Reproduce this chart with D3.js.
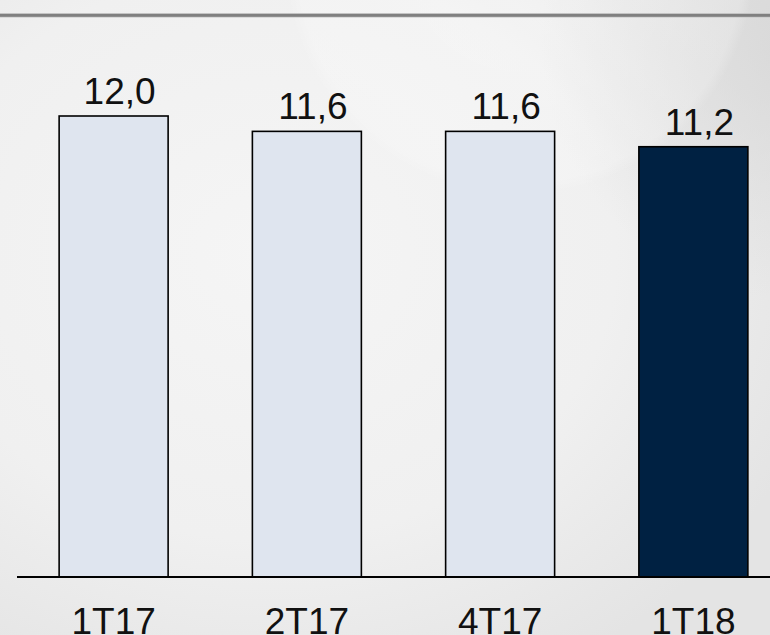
<!DOCTYPE html>
<html>
<head>
<meta charset="utf-8">
<script src="https://cdn.jsdelivr.net/npm/d3@7"></script>
<style>
    body { margin: 0; background: #efefef; }
    svg { display: block; }
</style>
</head>
<body>
<svg id="chart" width="770" height="635"></svg>
<script>
// data
const periods = ["1T17", "2T17", "4T17", "1T18"];
const values = [12.0, 11.6, 11.6, 11.2];
const valueLabels = ["12,0", "11,6", "11,6", "11,2"];
const highlight = ["1T18"];

const W = 770, H = 635;
const svg = d3.select("#chart");
const defs = svg.append("defs");

// background
let bg = defs.append("radialGradient")
    .attr("id", "bg")
    .attr("cx", "35%").attr("cy", "40%").attr("r", "75%")
bg.append("stop").attr("offset", "0%").attr("stop-color", "#f5f5f5")
bg.append("stop").attr("offset", "60%").attr("stop-color", "#f0f0f0")
bg.append("stop").attr("offset", "100%").attr("stop-color", "#e4e4e4")

let arc = defs.append("radialGradient").attr("id", "arc")
arc.append("stop").attr("offset", "0%").attr("stop-color", "#ffffff").attr("stop-opacity", 0.3)
arc.append("stop").attr("offset", "95%").attr("stop-color", "#ffffff").attr("stop-opacity", 0.2)
arc.append("stop").attr("offset", "100%").attr("stop-color", "#ffffff").attr("stop-opacity", 0)

let corner = defs.append("radialGradient").attr("id", "corner")
corner.append("stop").attr("offset", "0%").attr("stop-color", "#d6d6d6").attr("stop-opacity", 0.8)
corner.append("stop").attr("offset", "100%").attr("stop-color", "#d6d6d6").attr("stop-opacity", 0)

svg.append("rect").attr("width", W).attr("height", H).attr("fill", "url(#bg)")
svg.append("circle").attr("cx", 800).attr("cy", 40).attr("r", 260)
    .attr("fill", "url(#corner)")
svg.append("circle").attr("cx", 520).attr("cy", -40).attr("r", 235)
    .attr("fill", "url(#arc)")

// top rule
svg.append("rect").attr("x", 0).attr("y", 13).attr("width", W).attr("height", 4.5)
    .attr("fill", "#c4c4c4")
svg.append("rect").attr("x", 0).attr("y", 14).attr("width", W).attr("height", 2.8)
    .attr("fill", "#808080")

// scales
const x = d3.scaleBand()
    .domain(periods)
    .range([17, 790])
    .paddingInner(0.436)
    .paddingOuter(0.218)

const y = d3.scaleLinear()
    .domain([0, 12])
    .range([577, 116])

// bars
svg.selectAll("rect.bar")
    .data(periods)
    .enter()
    .append("rect")
    .attr("class", "bar")
    .attr("x", d => x(d))
    .attr("width", x.bandwidth())
    .attr("y", (d, i) => y(values[i]))
    .attr("height", (d, i) => y(0) - y(values[i]))
    .attr("fill", d => highlight.includes(d) ? "#002142" : "#dfe5ef")
    .attr("stroke", "#000")
    .attr("stroke-width", 1.6)

// value labels
svg.selectAll("text.val")
    .data(periods)
    .enter()
    .append("text")
    .attr("class", "val")
    .attr("x", d => x(d) + x.bandwidth() / 2 + 6)
    .attr("y", (d, i) => y(values[i]) - 12)
    .attr("text-anchor", "middle")
    .attr("font-family", "Liberation Sans, Arial, sans-serif")
    .attr("font-size", 37)
    .attr("fill", "#111")
    .text((d, i) => valueLabels[i])

// x axis
const axis = svg.append("g")
    .attr("transform", `translate(0,${y(0)})`)
    .call(d3.axisBottom(x).tickSize(0).tickPadding(31))

axis.select(".domain")
    .attr("d", `M17,0H${W}`)
    .attr("stroke", "#000")
    .attr("stroke-width", 2)

axis.selectAll("text")
    .attr("font-family", "Liberation Sans, Arial, sans-serif")
    .attr("font-size", 37)
    .attr("fill", "#111")
    .attr("dy", "0.71em")
</script>
</body>
</html>
